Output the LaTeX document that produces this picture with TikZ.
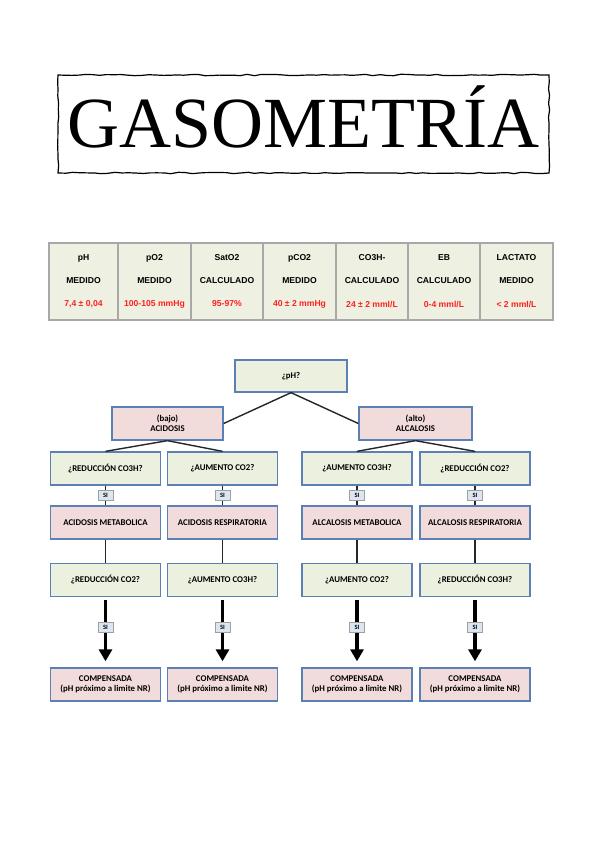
\documentclass[tikz,border=0pt]{standalone}
\usepackage{fontspec}
\setmainfont{Liberation Serif}
\newfontfamily\arialf{Liberation Sans}
\newfontfamily\calf{Carlito}
\usetikzlibrary{decorations.pathmorphing,arrows.meta,calc}
\definecolor{qgreen}{HTML}{EBF1DE}
\definecolor{qpink}{HTML}{F2DCDB}
\definecolor{qborder}{HTML}{5B80B5}
\definecolor{siblue}{HTML}{DCE6F2}
\definecolor{sigray}{HTML}{A0A0A0}
\definecolor{tabfill}{HTML}{EEF0E1}
\definecolor{tabline}{HTML}{A8A8A8}
\definecolor{tabred}{HTML}{FF2020}
\begin{document}
\begin{tikzpicture}[x=1pt,y=-1pt,
  qbox/.style={draw=qborder,line width=1.3pt,fill=qgreen,minimum width=110pt,minimum height=33pt,inner sep=0pt,align=center,font=\calf\bfseries\fontsize{8.8}{10.5}\selectfont},
  pbox/.style={qbox,fill=qpink},
  sibox/.style={draw=sigray,line width=0.9pt,fill=siblue,minimum width=15pt,minimum height=10pt,inner sep=0pt,font=\calf\bfseries\fontsize{6.5}{7}\selectfont},
  conn/.style={line width=1.4pt,draw=black!85},
  bigarrow/.style={line width=3.5pt,-{Triangle[width=13pt,length=12pt]}},
  thead/.style={font=\arialf\bfseries\fontsize{8.6}{10}\selectfont},
  tred/.style={thead,text=tabred}
]
\useasboundingbox[fill=white] (0,0) rectangle (599,848);

% Title
\draw[line width=1.2pt,decorate,decoration={random steps,segment length=7pt,amplitude=0.7pt}]
  (58,75) -- (549,75) -- (549,173) -- (58,173) -- cycle;
\node[font=\fontsize{72}{72}\selectfont,inner sep=0pt,anchor=base] (title) at (304,147) {GASOMETRÍA};

% Table
\fill[tabfill] (49,243) rectangle (553,320);
\foreach \x in {118,191,263,336,408,480}
  \draw[tabline,line width=1.6pt] (\x,243) -- (\x,320);
\draw[tabline,line width=1.6pt] (49,243) rectangle (553,320);
\foreach \cx/\a/\b/\c [count=\i] in {
  83.5/pH/MEDIDO/{7,4 ± 0,04},
  154.5/pO2/MEDIDO/{100-105 mmHg},
  227/SatO2/CALCULADO/{95-97\%},
  299.5/pCO2/MEDIDO/{40 ± 2 mmHg},
  372/CO3H-/CALCULADO/{24 ± 2 mml/L},
  444/EB/CALCULADO/{0-4 mml/L},
  516.5/LACTATO/MEDIDO/{< 2 mml/L}} {
  \node[thead] (h\i) at (\cx,258) {\a};
  \node[thead] (m\i) at (\cx,281) {\b};
  \node[tred] (v\i) at (\cx,304) {\c};
}

% Flowchart
\node[qbox,minimum width=112pt,minimum height=32pt] (ph) at (291,376) {¿pH?};
\node[pbox,minimum width=111pt] (acid) at (167.5,423.5) {(bajo)\\ACIDOSIS};
\node[pbox,minimum width=113pt] (alca) at (415.5,423.5) {(alto)\\ALCALOSIS};

\node[qbox] (q1) at (105.5,468.5) {¿REDUCCIÓN CO3H?};
\node[qbox] (q2) at (222.5,468.5) {¿AUMENTO CO2?};
\node[qbox] (q3) at (357,468.5) {¿AUMENTO CO3H?};
\node[qbox] (q4) at (475,468.5) {¿REDUCCIÓN CO2?};

\node[pbox] (p1) at (105.5,522.5) {ACIDOSIS METABOLICA};
\node[pbox] (p2) at (222.5,522.5) {ACIDOSIS RESPIRATORIA};
\node[pbox] (p3) at (357,522.5) {ALCALOSIS METABOLICA};
\node[pbox] (p4) at (475,522.5) {ALCALOSIS RESPIRATORIA};

\node[qbox] (r1) at (105.5,580) {¿REDUCCIÓN CO2?};
\node[qbox] (r2) at (222.5,580) {¿AUMENTO CO3H?};
\node[qbox] (r3) at (357,580) {¿AUMENTO CO2?};
\node[qbox] (r4) at (475,580) {¿REDUCCIÓN CO3H?};

\foreach \i/\x in {1/105.5,2/222.5,3/357,4/475}
  \node[pbox] (c\i) at (\x,684.5) {COMPENSADA\\(pH próximo a limite NR)};

\draw[conn] (ph.south) -- (acid.east);
\draw[conn] (ph.south) -- (alca.west);
\draw[conn] (acid.south) -- (q1.north);
\draw[conn] (acid.south) -- (q2.north);
\draw[conn] (alca.south) -- (q3.north);
\draw[conn] (alca.south) -- (q4.north);

\foreach \i in {1,2,3,4} {
  \draw[conn] (q\i.south) -- (p\i.north);
  \node[sibox] (sa\i) at ($(q\i.south)!0.5!(p\i.north)$) {SI};
  \draw[conn] (p\i.south) -- (r\i.north);
  \draw[bigarrow] ([yshift=-3pt]r\i.south) -- ([yshift=6pt]c\i.north);
  \node[sibox] (sb\i) at ([yshift=-30.5pt]r\i.south) {SI};
}
\end{tikzpicture}
\end{document}
